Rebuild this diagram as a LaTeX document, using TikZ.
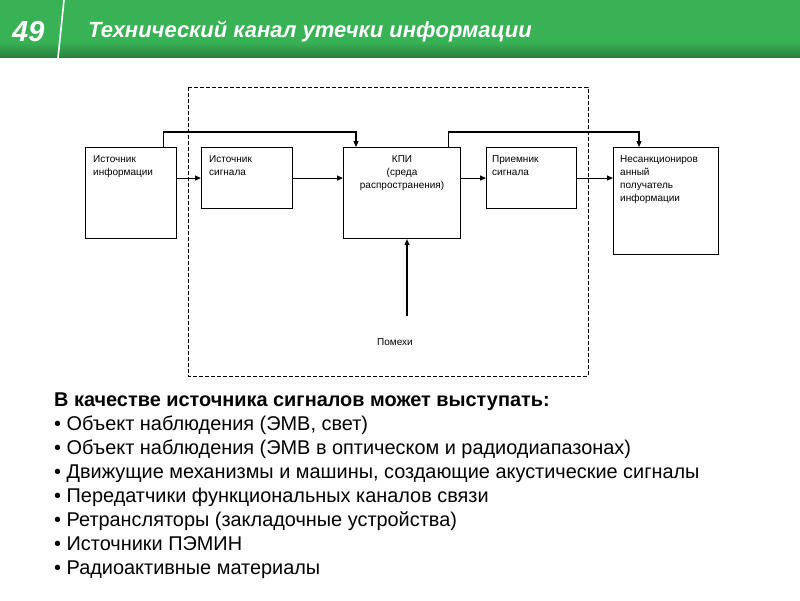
\documentclass[tikz,border=0pt]{standalone}
\usepackage{fontspec}
\setmainfont{Liberation Sans}
\usetikzlibrary{arrows.meta}
\definecolor{headgreen}{RGB}{56,178,84}
\definecolor{headdark}{RGB}{42,128,62}

\begin{document}
\begin{tikzpicture}[x=1pt,y=-1pt,
	main_node/.style={rectangle,draw,line width=1.1pt,anchor=north west,inner sep=0pt},
	box_text/.style={inner sep=0pt,font=\fontsize{10}{13}\selectfont},
	link/.style={line width=1.1pt,-{Triangle[length=6pt,width=5pt]}},
	frame_line/.style={line width=1pt,dash pattern=on 4pt off 2pt}]

		\useasboundingbox (0,0) rectangle (800,600);

		% header band
		\fill[headgreen] (0,0) rectangle (800,42);
		\shade[top color=headgreen,bottom color=headdark] (0,42) rectangle (800,57);
		\draw[white,line width=1.6pt] (64,0) -- (58,58);
		\node[white,anchor=west,inner sep=0pt,font=\bfseries\itshape\fontsize{29}{32}\selectfont] (num) at (12,32) {49};
		\node[white,anchor=west,inner sep=0pt,font=\bfseries\itshape\fontsize{22}{25}\selectfont] (title) at (88,32) {Технический канал утечки информации};

		% dashed frame of the channel
		\draw[frame_line] (188,87) rectangle (588,376);

		% [main_node] boxes, (x,y) is the top left corner
		\node[main_node,minimum width=91,minimum height=91] (1) at (85,147) {};
		\node[main_node,minimum width=91,minimum height=61] (2) at (201,147) {};
		\node[main_node,minimum width=117,minimum height=91] (3) at (343,147) {};
		\node[main_node,minimum width=90,minimum height=61] (4) at (486,147) {};
		\node[main_node,minimum width=105,minimum height=107] (5) at (613,147) {};

		% texts of the boxes
		\node[box_text,anchor=north west,align=left] (t1) at ([shift={(8,8)}]1.north west) {Источник\\информации};
		\node[box_text,anchor=north west,align=left] (t2) at ([shift={(8,8)}]2.north west) {Источник\\сигнала};
		\node[box_text,anchor=north,align=center] (t3) at ([shift={(0,8)}]3.north) {КПИ\\(среда\\распространения)};
		\node[box_text,anchor=north west,align=left] (t4) at ([shift={(6,8)}]4.north west) {Приемник\\сигнала};
		\node[box_text,anchor=north west,align=left] (t5) at ([shift={(7,8)}]5.north west) {Несанкциониров\\анный\\получатель\\информации};
		\node[box_text] (noise) at (395,342) {Помехи};
		\coordinate (noise_end) at (407,316);

		\path[draw]
		(1.east |- 2.west) edge[link] (2.west)
		(2.east) edge[link] (3.west |- 2.east)
		(3.east |- 4.west) edge[link] (4.west)
		(4.east) edge[link] (5.west |- 4.east)
		(noise_end) edge[link] (noise_end |- 3.south)
		% top connectors
		;
		\draw[link] ([xshift=-14pt]1.north east) -- ++(0,-15) -| ([xshift=13pt]3.north west);
		\draw[link] ([xshift=-13pt]3.north east) -- ++(0,-15) -| ([xshift=26pt]5.north west);

		% list under the diagram
		\node[anchor=north west,inner sep=0pt,align=left,font=\fontsize{19.9}{24}\selectfont] (list) at (54,393)
		{\textbf{В качестве источника сигналов может выступать:}\\
		• Объект наблюдения (ЭМВ, свет)\\
		• Объект наблюдения (ЭМВ в оптическом и радиодиапазонах)\\
		• Движущие механизмы и машины, создающие акустические сигналы\\
		• Передатчики функциональных каналов связи\\
		• Ретрансляторы (закладочные устройства)\\
		• Источники ПЭМИН\\
		• Радиоактивные материалы};

	\end{tikzpicture}
\end{document}
